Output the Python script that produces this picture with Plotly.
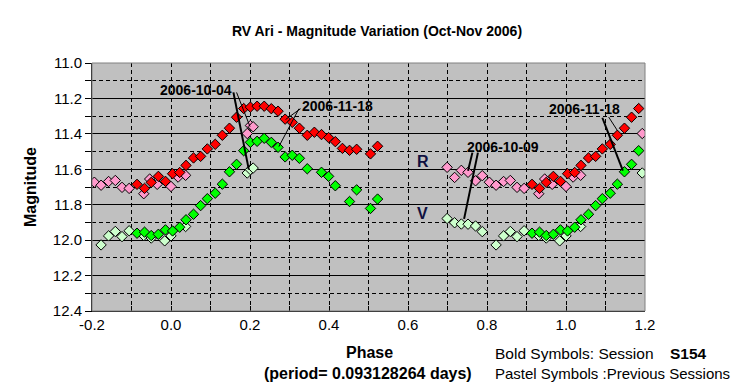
import plotly.graph_objects as go

# ---------------- data ----------------
r_bold_phase = [-0.086, -0.067, -0.050, -0.032, -0.014, 0.004, 0.022, 0.038, 0.057, 0.075,
                0.092, 0.112, 0.130, 0.148, 0.166, 0.184, 0.201, 0.218, 0.236, 0.254,
                0.271, 0.289, 0.307, 0.325, 0.345, 0.363, 0.381, 0.399, 0.416, 0.434,
                0.452, 0.470, 0.505, 0.523,
                0.914, 0.933, 0.950, 0.968, 0.986, 1.004, 1.022, 1.038, 1.057, 1.075,
                1.092, 1.112, 1.130, 1.148, 1.166, 1.184]
r_bold_mag = [11.685, 11.708, 11.674, 11.640, 11.668, 11.625, 11.618, 11.578, 11.536, 11.527,
              11.485, 11.459, 11.408, 11.368, 11.306, 11.257, 11.249, 11.244, 11.244, 11.258,
              11.272, 11.317, 11.335, 11.368, 11.408, 11.391, 11.404, 11.421, 11.444, 11.482,
              11.493, 11.487, 11.513, 11.470,
              11.685, 11.708, 11.674, 11.640, 11.668, 11.625, 11.618, 11.578, 11.536, 11.527,
              11.485, 11.459, 11.408, 11.368, 11.306, 11.257]

v_bold_phase = [-0.086, -0.067, -0.050, -0.032, -0.014, 0.004, 0.022, 0.038, 0.057, 0.075,
                0.092, 0.112, 0.130, 0.148, 0.166, 0.184, 0.201, 0.218, 0.236, 0.254,
                0.271, 0.289, 0.307, 0.325, 0.345, 0.381, 0.399, 0.416, 0.452, 0.470,
                0.505, 0.523,
                0.914, 0.933, 0.950, 0.968, 0.986, 1.004, 1.022, 1.038, 1.057, 1.075,
                1.092, 1.112, 1.130, 1.148, 1.166, 1.184]
v_bold_mag = [11.961, 11.955, 11.974, 11.967, 11.942, 11.948, 11.927, 11.885, 11.854, 11.805,
              11.766, 11.735, 11.684, 11.614, 11.572, 11.495, 11.448, 11.442, 11.425, 11.448,
              11.476, 11.530, 11.521, 11.538, 11.597, 11.617, 11.640, 11.693, 11.782, 11.716,
              11.821, 11.768,
              11.961, 11.955, 11.974, 11.967, 11.942, 11.948, 11.927, 11.885, 11.854, 11.805,
              11.766, 11.735, 11.684, 11.614, 11.572, 11.495]

r_past_phase = [-0.194, -0.177, -0.158, -0.141, -0.124, -0.106, -0.069, -0.054, -0.035, 0.000,
                0.018, 0.037, 0.193, 0.201, 0.208,
                0.699, 0.718, 0.735, 0.752, 0.771, 0.788, 0.806, 0.823, 0.842, 0.859,
                0.876, 0.894, 0.931, 0.946, 0.965, 1.000, 1.018, 1.037, 1.193]
r_past_mag = [11.673, 11.690, 11.669, 11.663, 11.702, 11.708, 11.738, 11.655, 11.685, 11.697,
              11.644, 11.634, 11.398, 11.353, 11.360,
              11.589, 11.646, 11.606, 11.617, 11.665, 11.636, 11.673, 11.690, 11.669, 11.663,
              11.702, 11.708, 11.738, 11.655, 11.685, 11.697, 11.644, 11.634, 11.398]

v_past_phase = [-0.177, -0.158, -0.141, -0.124, -0.106, -0.069, -0.050, -0.016, 0.000, 0.037,
                0.193, 0.201, 0.208,
                0.699, 0.718, 0.735, 0.752, 0.771, 0.788, 0.823, 0.842, 0.859, 0.876,
                0.894, 0.931, 0.950, 0.984, 1.000, 1.037, 1.193]
v_past_mag = [12.027, 11.976, 11.951, 11.980, 11.947, 11.974, 11.988, 12.004, 11.976, 11.923,
              11.621, 11.602, 11.593,
              11.878, 11.902, 11.909, 11.910, 11.920, 11.952, 12.027, 11.976, 11.951, 11.980,
              11.947, 11.974, 11.988, 12.004, 11.976, 11.923, 11.621]

x_tick_vals = [-0.2, 0.0, 0.2, 0.4, 0.6, 0.8, 1.0, 1.2]
y_tick_vals = [11.0, 11.2, 11.4, 11.6, 11.8, 12.0, 12.2, 12.4]

# date call-outs: (label, text position, list of (start, end, line width))
callouts = [
    ("2006-10-04", (0.063, 11.155), [((0.158, 11.166), (0.197, 11.602), 2), ((0.166, 11.166), (0.200, 11.359), 1)]),
    ("2006-11-18", (0.421, 11.245), [((0.328, 11.258), (0.290, 11.319), 1), ((0.324, 11.258), (0.273, 11.472), 1)]),
    ("2006-10-09", (0.840, 11.475), [((0.763, 11.506), (0.752, 11.608), 2), ((0.777, 11.506), (0.742, 11.880), 2)]),
    ("2006-11-18", (1.046, 11.257), [((1.092, 11.309), (1.144, 11.608), 2), ((1.108, 11.305), (1.130, 11.381), 1)]),
]

FONT = "Arial, Liberation Sans, sans-serif"
OFF = 8  # default page body margin
W, H = 751 - OFF, 389 - OFF
ML, MR, MT, MB = 92 - OFF, 106, 63 - OFF, 78
PW, PH = W - ML - MR, H - MT - MB
DASH = "4px,3px"


def px_x(px):
    return (px - OFF - ML) / PW


def px_y(py):
    return (H - MB - (py - OFF)) / PH


fig = go.Figure()


def add_series(xs, ys, color):
    fig.add_trace(go.Scatter(
        x=xs, y=ys, mode="markers", cliponaxis=True,
        marker=dict(symbol="diamond", size=8, color=color,
                    line=dict(color="black", width=1)),
        showlegend=False, hoverinfo="x+y"))


add_series(r_past_phase, r_past_mag, "#FF99CC")
add_series(v_past_phase, v_past_mag, "#CCFFCC")
add_series(r_bold_phase, r_bold_mag, "#FF0000")
add_series(v_bold_phase, v_bold_mag, "#00FF00")

shapes = [dict(type="rect", xref="paper", yref="paper", x0=0, x1=1, y0=0, y1=1,
               line=dict(color="#808080", width=1), layer="above")]
annotations = []
for label, (tx, ty), lines in callouts:
    annotations.append(dict(x=tx, y=ty, xref="x", yref="y", text="<b>" + label + "</b>",
                            showarrow=False,
                            font=dict(family=FONT, size=14, color="black"),
                            xanchor="center", yanchor="middle"))
    for (x0, y0), (x1, y1), lw in lines:
        shapes.append(dict(type="line", xref="x", yref="y", x0=x0, y0=y0, x1=x1, y1=y1,
                           line=dict(color="black", width=lw), layer="above"))

annotations += [
    dict(x=0.639, y=11.555, xref="x", yref="y", text="<b>R</b>", showarrow=False,
         font=dict(family=FONT, size=16, color="#101040"), xanchor="center", yanchor="middle"),
    dict(x=0.636, y=11.848, xref="x", yref="y", text="<b>V</b>", showarrow=False,
         font=dict(family=FONT, size=16, color="#101040"), xanchor="center", yanchor="middle"),
    dict(x=px_x(369), y=px_y(352), xref="paper", yref="paper", text="<b>Phase</b>",
         showarrow=False, font=dict(family=FONT, size=16, color="black"),
         xanchor="center", yanchor="middle"),
    dict(x=px_x(368), y=px_y(373), xref="paper", yref="paper",
         text="<b>(period= 0.093128264 days)</b>", showarrow=False,
         font=dict(family=FONT, size=16, color="black"), xanchor="center", yanchor="middle"),
    dict(x=px_x(493), y=px_y(353), xref="paper", yref="paper", text="Bold Symbols: Session",
         showarrow=False, font=dict(family=FONT, size=15.5, color="black"),
         xanchor="left", yanchor="middle"),
    dict(x=px_x(668), y=px_y(353), xref="paper", yref="paper", text="<b>S154</b>",
         showarrow=False, font=dict(family=FONT, size=15.5, color="black"),
         xanchor="left", yanchor="middle"),
    dict(x=px_x(493), y=px_y(373), xref="paper", yref="paper",
         text="Pastel Symbols :Previous Sessions", showarrow=False,
         font=dict(family=FONT, size=15, color="black"), xanchor="left", yanchor="middle"),
    dict(x=px_x(30), y=px_y(187), xref="paper", yref="paper", text="<b>Magnitude</b>",
         showarrow=False, textangle=-90, font=dict(family=FONT, size=16, color="black"),
         xanchor="center", yanchor="middle"),
]

fig.update_layout(
    width=W, height=H,
    margin=dict(l=ML, r=MR, t=MT, b=MB, pad=0),
    paper_bgcolor="white", plot_bgcolor="#C0C0C0",
    title=dict(text="<b>RV Ari - Magnitude Variation (Oct-Nov 2006)</b>",
               x=(377 - OFF) / W, xanchor="center", y=1 - (31 - OFF) / H, yanchor="middle",
               font=dict(family=FONT, size=14, color="black")),
    font=dict(family=FONT, size=15, color="black"),
    showlegend=False,
    shapes=shapes, annotations=annotations,
    xaxis=dict(range=[-0.2, 1.2], tickvals=x_tick_vals,
               ticktext=[f"{v:.1f}" for v in x_tick_vals],
               showgrid=True, gridcolor="black", gridwidth=1, griddash=DASH,
               ticks="inside", ticklen=5, tickcolor="black",
               showline=True, linecolor="black", linewidth=1, zeroline=False,
               tickfont=dict(family=FONT, size=15, color="black"),
               minor=dict(dtick=0.1, tick0=-0.2, ticks="inside", ticklen=5, tickcolor="black",
                          showgrid=True, gridcolor="black", gridwidth=1, griddash=DASH)),
    yaxis=dict(range=[12.4, 11.0], tickvals=y_tick_vals,
               ticktext=[f"{v:.1f}" for v in y_tick_vals],
               showgrid=True, gridcolor="black", gridwidth=1,
               ticks="outside", ticklen=6, tickcolor="black",
               showline=True, linecolor="black", linewidth=1, zeroline=False,
               tickfont=dict(family=FONT, size=15, color="black"),
               minor=dict(dtick=0.1, tick0=11.0, ticks="outside", ticklen=6, tickcolor="black",
                          showgrid=True, gridcolor="black", gridwidth=1, griddash=DASH)),
)

fig.write_html("out.html")
